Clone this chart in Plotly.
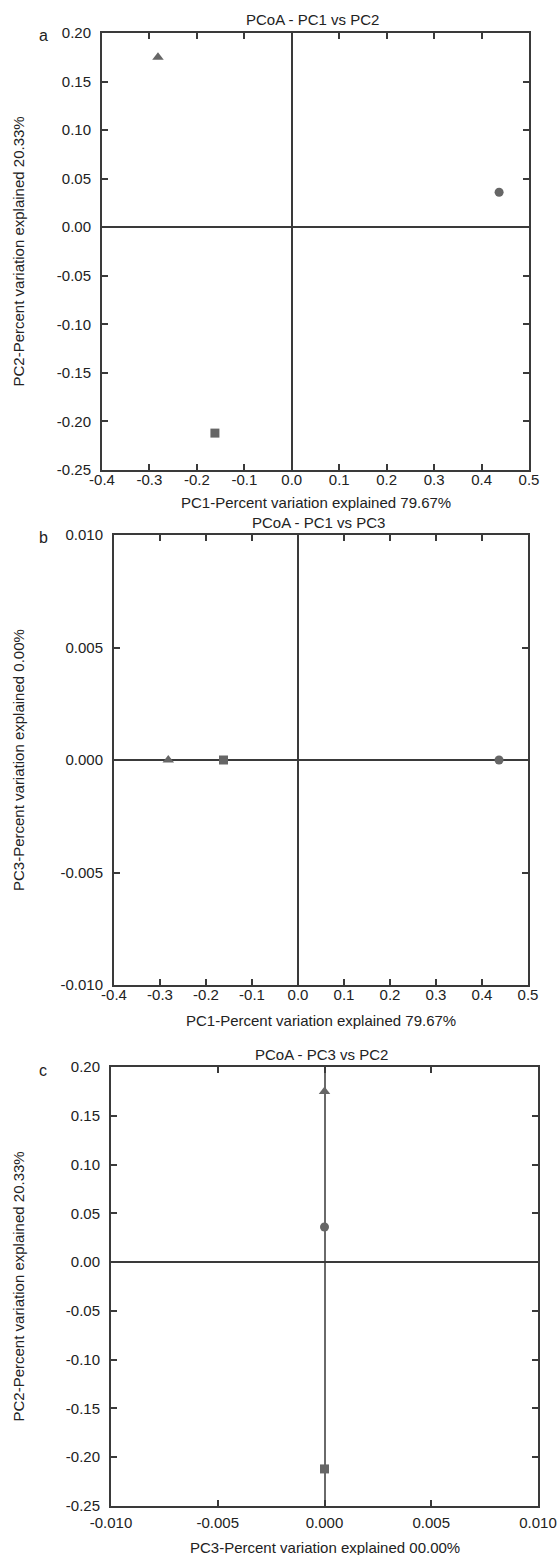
import plotly.graph_objects as go

W, H = 558, 1555

# ---- data ----
samples = ["triangle", "square", "circle"]
pc1 = [-0.282, -0.162, 0.437]
pc2 = [0.175, -0.212, 0.036]
pc3 = [0.0, 0.0, 0.0]
symbols = ["triangle-up", "square", "circle"]

pc1_ticks = [-0.4, -0.3, -0.2, -0.1, 0.0, 0.1, 0.2, 0.3, 0.4, 0.5]
pc1_ticktext = ["-0.4", "-0.3", "-0.2", "-0.1", "0.0", "0.1", "0.2", "0.3", "0.4", "0.5"]
pc2_ticks = [0.20, 0.15, 0.10, 0.05, 0.0, -0.05, -0.10, -0.15, -0.20, -0.25]
pc2_ticktext = ["0.20", "0.15", "0.10", "0.05", "0.00", "-0.05", "-0.10", "-0.15", "-0.20", "-0.25"]
pc3_ticks = [0.010, 0.005, 0.0, -0.005, -0.010]
pc3_ticktext = ["0.010", "0.005", "0.000", "-0.005", "-0.010"]
pc3x_ticks = [-0.010, -0.005, 0.0, 0.005, 0.010]
pc3x_ticktext = ["-0.010", "-0.005", "0.000", "0.005", "0.010"]

panel_titles = ["PCoA - PC1 vs PC2", "PCoA - PC1 vs PC3", "PCoA - PC3 vs PC2"]
panel_letters = ["a", "b", "c"]
xtitles = ["PC1-Percent variation explained 79.67%",
           "PC1-Percent variation explained 79.67%",
           "PC3-Percent variation explained 00.00%"]
ytitles = ["PC2-Percent variation explained 20.33%",
           "PC3-Percent variation explained 0.00%",
           "PC2-Percent variation explained 20.33%"]

# ---- layout geometry (pixels) ----
boxes = [  # left, right, top, bottom
    (102, 529, 33, 470),
    (114, 528, 535, 985),
    (111, 538, 1067, 1506),
]
xtitle_off = [32, 36, 41]
xlabel_standoff = [-5, -5, 2]

FONT = "Liberation Sans, Arial, sans-serif"
MARK = "#666666"
AX = "#3a3a3a"
TXT = "#222222"

fig = go.Figure()

panels = [
    (pc1, pc2, [-0.4, 0.5], [-0.25, 0.20], pc1_ticks, pc1_ticktext, pc2_ticks, pc2_ticktext),
    (pc1, pc3, [-0.4, 0.5], [-0.010, 0.010], pc1_ticks, pc1_ticktext, pc3_ticks, pc3_ticktext),
    (pc3, pc2, [-0.010, 0.010], [-0.25, 0.20], pc3x_ticks, pc3x_ticktext, pc2_ticks, pc2_ticktext),
]

annotations = []
for i, (xs, ys, xr, yr, xt, xtt, yt, ytt) in enumerate(panels):
    l, r, t, b = boxes[i]
    xa = "xaxis" if i == 0 else f"xaxis{i+1}"
    ya = "yaxis" if i == 0 else f"yaxis{i+1}"
    xref = "x" if i == 0 else f"x{i+1}"
    yref = "y" if i == 0 else f"y{i+1}"
    for j in range(len(xs)):
        fig.add_trace(go.Scatter(
            x=[xs[j]], y=[ys[j]], mode="markers", name=samples[j],
            marker=dict(symbol=symbols[j], size=10 if symbols[j] == "triangle-up" else 9,
                        color=MARK, line=dict(width=0)),
            xaxis=xref, yaxis=yref, showlegend=False, cliponaxis=False))
    common = dict(showline=True, mirror="ticks", linecolor=AX, linewidth=2,
                  ticks="inside", ticklen=6, tickwidth=2, tickcolor=AX,
                  showgrid=False, zeroline=True, zerolinecolor=AX, zerolinewidth=1.5,
                  automargin=False,
                  tickfont=dict(family=FONT, size=15, color=TXT))
    fig.layout[xa] = dict(domain=[l / W, r / W], range=xr, tickvals=xt, ticktext=xtt,
                          anchor=yref, ticklabelstandoff=xlabel_standoff[i], **common)
    fig.layout[ya] = dict(domain=[1 - b / H, 1 - t / H], range=yr, tickvals=yt, ticktext=ytt,
                          anchor=xref, ticklabelstandoff=6, **common)
    if i == 2:
        fig.layout[xa].zerolinecolor = "#6a6a6a"
    cx = (l + r) / 2
    cy = (t + b) / 2
    annotations += [
        dict(text=panel_titles[i], x=(l + r) / 2 / W - 0.005, y=1 - (t - 13) / H, xref="paper", yref="paper",
             showarrow=False, xanchor="center", yanchor="middle",
             font=dict(family=FONT, size=15, color=TXT)),
        dict(text=panel_letters[i], x=43 / W, y=1 - (t + 3) / H, xref="paper", yref="paper",
             showarrow=False, xanchor="center", yanchor="middle",
             font=dict(family=FONT, size=16, color=TXT)),
        dict(text=xtitles[i], x=cx / W, y=1 - (b + xtitle_off[i]) / H, xref="paper", yref="paper",
             showarrow=False, xanchor="center", yanchor="middle",
             font=dict(family=FONT, size=15, color=TXT)),
        dict(text=ytitles[i], x=18 / W, y=1 - cy / H, xref="paper", yref="paper",
             showarrow=False, xanchor="center", yanchor="middle", textangle=-90,
             font=dict(family=FONT, size=15, color=TXT)),
    ]

fig.update_layout(width=W, height=H, margin=dict(l=0, r=0, t=0, b=0),
                  paper_bgcolor="white", plot_bgcolor="white",
                  annotations=annotations, showlegend=False)

fig.write_html("out.html")
